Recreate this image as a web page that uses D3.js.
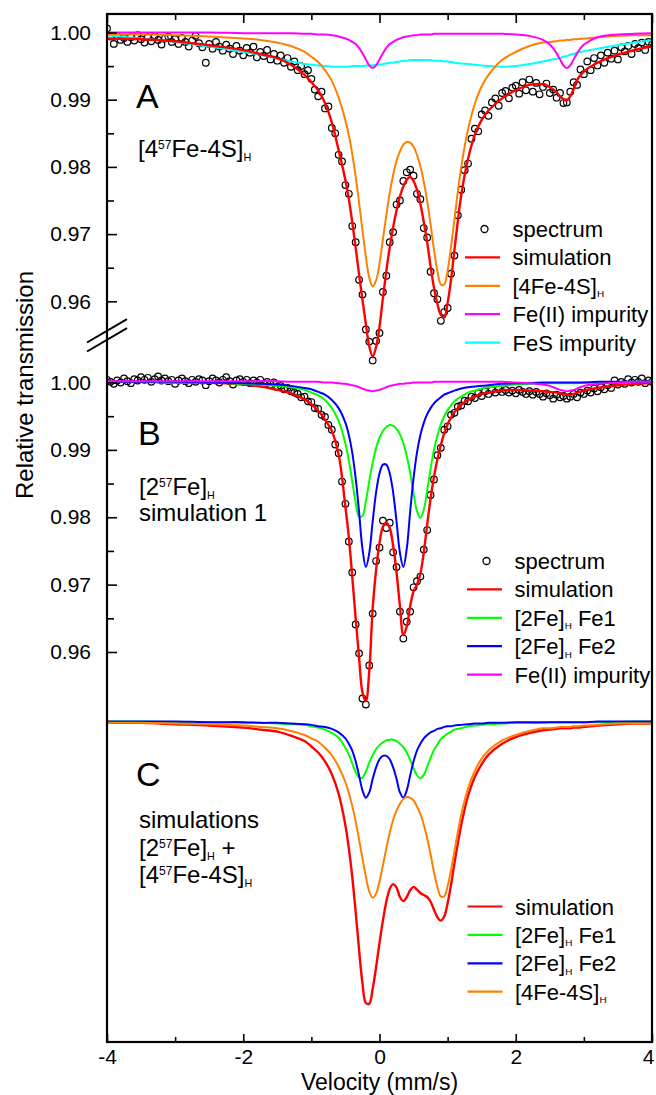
<!DOCTYPE html>
<html>
<head>
<meta charset="utf-8">
<script src="https://cdn.jsdelivr.net/npm/d3@7"></script>
<style>
body { margin: 0; background: #fff; }
svg { font-family: "Liberation Sans", Arial, sans-serif; }
</style>
</head>
<body>
<div id="chart"></div>
<script>
// velocity grid (mm/s) used by all simulated curves
var vCurve = [-4, -3.5, -3, -2.5, -2, -1.75, -1.5, -1.3, -1.1, -1,
  -0.9, -0.8, -0.7, -0.6, -0.5, -0.45, -0.4, -0.35, -0.3, -0.25,
  -0.2, -0.15, -0.1, -0.05, 0, 0.05, 0.1, 0.15, 0.2, 0.25,
  0.3, 0.35, 0.4, 0.45, 0.5, 0.55, 0.6, 0.65, 0.7, 0.75,
  0.8, 0.85, 0.9, 0.95, 1, 1.05, 1.1, 1.2, 1.3, 1.4,
  1.5, 1.6, 1.8, 2, 2.2, 2.4, 2.5, 2.6, 2.65, 2.7,
  2.75, 2.8, 2.85, 2.9, 3, 3.2, 3.5, 3.75, 4];

// panel A : [4 57Fe-4S]H
var redA = [.9991, .9990, .9987, .9981, .9974, .9968, .9962, .9952, .9937, .9926,
  .9914, .9895, .9866, .9825, .9780, .9752, .9718, .9680, .9640, .9602,
  .9566, .9533, .9518, .9532, .9562, .9605, .9645, .9680, .9710, .9735,
  .9756, .9771, .9781, .9785, .9779, .9766, .9745, .9718, .9688, .9652,
  .9620, .9596, .9580, .9576, .9598, .9632, .9676, .9758, .9812, .9848,
  .9870, .9884, .9902, .9914, .9922, .9923, .9919, .9911, .9905, .9901,
  .9899, .9905, .9916, .9929, .9942, .9955, .9967, .9974, .9980];
var orangeA = [.9997, .9997, .9996, .9994, .9991, .9989, .9985, .9980, .9971, .9964,
  .9956, .9944, .9928, .9903, .9869, .9847, .9819, .9786, .9747, .9706,
  .9666, .9635, .9622, .9631, .9656, .9692, .9728, .9761, .9788, .9809,
  .9823, .9833, .9837, .9836, .9830, .9818, .9801, .9778, .9749, .9714,
  .9677, .9645, .9625, .9625, .9646, .9681, .9722, .9800, .9856, .9894,
  .9920, .9937, .9959, .9971, .9980, .9985, .9986, .9987, .9988, .9988,
  .9989, .9989, .9990, .9990, .9991, .9993, .9995, .9996, .9996];
var magentaA = [1.0000, 1.0000, 1.0000, 1.0000, .9999, .9999, .9999, .9999, .9998, .9998,
  .9997, .9997, .9996, .9994, .9991, .9989, .9986, .9983, .9977, .9969,
  .9960, .9951, .9947, .9951, .9960, .9969, .9977, .9983, .9986, .9989,
  .9991, .9993, .9994, .9995, .9996, .9996, .9997, .9997, .9997, .9997,
  .9998, .9998, .9998, .9998, .9998, .9998, .9998, .9998, .9998, .9998,
  .9998, .9998, .9998, .9997, .9995, .9989, .9982, .9969, .9960, .9951,
  .9947, .9951, .9960, .9969, .9982, .9993, .9997, .9998, .9999];
var cyanA = [.9996, .9991, .9986, .9979, .9971, .9967, .9961, .9957, .9953, .9952,
  .9951, .9950, .9949, .9949, .9949, .9949, .9950, .9950, .9950, .9950,
  .9951, .9951, .9951, .9952, .9952, .9953, .9954, .9955, .9955, .9956,
  .9957, .9958, .9958, .9959, .9959, .9959, .9959, .9959, .9959, .9959,
  .9958, .9958, .9958, .9957, .9957, .9956, .9955, .9954, .9953, .9952,
  .9951, .9950, .9949, .9950, .9953, .9957, .9959, .9961, .9962, .9964,
  .9965, .9967, .9968, .9970, .9972, .9976, .9981, .9985, .9988];

// panel B : [2 57Fe]H simulation 1
var redB = [1.0001, 1.0001, 1.0000, 1.0000, .9997, .9994, .9989, .9984, .9975, .9968,
  .9958, .9945, .9928, .9893, .9815, .9770, .9712, .9650, .9592, .9540,
  .9527, .9572, .9665, .9722, .9762, .9786, .9792, .9784, .9758, .9718,
  .9668, .9625, .9638, .9668, .9690, .9700, .9716, .9748, .9789, .9828,
  .9860, .9886, .9907, .9925, .9938, .9948, .9956, .9967, .9974, .9979,
  .9983, .9985, .9988, .9989, .9988, .9987, .9986, .9985, .9984, .9983,
  .9982, .9982, .9983, .9985, .9988, .9992, .9996, .9998, .9999];
var greenB = [1.0001, 1.0001, 1.0000, 1.0000, .9998, .9997, .9995, .9993, .9989, .9985,
  .9981, .9974, .9962, .9943, .9909, .9884, .9853, .9822, .9801, .9802,
  .9824, .9854, .9881, .9903, .9918, .9928, .9934, .9937, .9936, .9931,
  .9923, .9910, .9891, .9866, .9836, .9809, .9799, .9811, .9840, .9872,
  .9900, .9921, .9938, .9950, .9959, .9966, .9972, .9979, .9985, .9988,
  .9991, .9993, .9995, .9997, .9998, .9998, .9999, .9999, .9999, .9999,
  .9999, .9999, .9999, .9999, 1.0000, 1.0000, 1.0000, 1.0001, 1.0001];
var blueB = [1.0001, 1.0001, 1.0001, 1.0000, .9999, .9998, .9997, .9995, .9992, .9990,
  .9986, .9982, .9974, .9962, .9940, .9922, .9896, .9858, .9808, .9753,
  .9726, .9747, .9794, .9837, .9865, .9878, .9878, .9865, .9837, .9794,
  .9747, .9726, .9753, .9808, .9858, .9896, .9922, .9940, .9953, .9962,
  .9969, .9974, .9978, .9982, .9984, .9986, .9988, .9991, .9993, .9994,
  .9995, .9996, .9998, .9999, .9999, 1.0000, 1.0000, 1.0000, 1.0000, 1.0000,
  1.0000, 1.0000, 1.0000, 1.0000, 1.0000, 1.0001, 1.0001, 1.0001, 1.0001];
var magentaB = [1.0002, 1.0002, 1.0002, 1.0002, 1.0002, 1.0002, 1.0002, 1.0001, 1.0001, 1.0001,
  1.0001, 1.0000, 1.0000, .9999, .9998, .9997, .9996, .9995, .9993, .9991,
  .9989, .9988, .9987, .9988, .9989, .9991, .9993, .9995, .9996, .9997,
  .9998, .9998, .9999, .9999, 1.0000, 1.0000, 1.0000, 1.0000, 1.0000, 1.0000,
  1.0001, 1.0001, 1.0001, 1.0001, 1.0001, 1.0001, 1.0001, 1.0001, 1.0001, 1.0001,
  1.0001, 1.0001, 1.0001, 1.0000, .9999, .9997, .9995, .9991, .9989, .9988,
  .9987, .9988, .9989, .9991, .9995, .9998, 1.0000, 1.0001, 1.0001];

// panel C : simulations [2 57Fe]H + [4 57Fe-4S]H
var redC = [.9998, .9998, .9996, .9994, .9991, .9988, .9985, .9979, .9971, .9963,
  .9954, .9941, .9922, .9893, .9846, .9812, .9770, .9718, .9662, .9612,
  .9583, .9582, .9604, .9636, .9672, .9705, .9733, .9752, .9759, .9754,
  .9740, .9734, .9740, .9750, .9755, .9751, .9746, .9743, .9740, .9733,
  .9721, .9710, .9705, .9711, .9731, .9758, .9790, .9847, .9890, .9918,
  .9937, .9951, .9967, .9977, .9983, .9987, .9988, .9989, .9990, .9990,
  .9990, .9990, .9991, .9991, .9992, .9994, .9996, .9997, .9997];
var greenC = [1.0000, 1.0000, .9999, .9999, .9998, .9998, .9997, .9996, .9995, .9993,
  .9991, .9988, .9983, .9976, .9961, .9951, .9938, .9925, .9917, .9917,
  .9926, .9939, .9950, .9959, .9965, .9969, .9972, .9973, .9973, .9971,
  .9967, .9962, .9954, .9943, .9931, .9920, .9916, .9921, .9933, .9946,
  .9958, .9966, .9974, .9978, .9982, .9985, .9988, .9990, .9993, .9994,
  .9995, .9996, .9997, .9998, .9998, .9998, .9999, .9999, .9999, .9999,
  .9999, .9999, .9999, .9999, .9999, .9999, .9999, 1.0000, 1.0000];
var blueC = [1.0000, 1.0000, 1.0000, .9999, .9999, .9998, .9998, .9997, .9996, .9995,
  .9993, .9992, .9989, .9984, .9975, .9967, .9957, .9941, .9920, .9898,
  .9887, .9895, .9915, .9932, .9944, .9949, .9949, .9944, .9932, .9915,
  .9895, .9887, .9898, .9920, .9941, .9957, .9967, .9975, .9980, .9984,
  .9986, .9989, .9990, .9992, .9993, .9993, .9994, .9995, .9996, .9997,
  .9997, .9998, .9998, .9999, .9999, .9999, .9999, .9999, .9999, .9999,
  .9999, .9999, .9999, .9999, .9999, 1.0000, 1.0000, 1.0000, 1.0000];
var orangeC = [.9998, .9998, .9997, .9996, .9994, .9992, .9990, .9986, .9980, .9975,
  .9970, .9961, .9950, .9933, .9910, .9894, .9875, .9852, .9825, .9797,
  .9770, .9748, .9739, .9745, .9763, .9787, .9812, .9835, .9854, .9868,
  .9878, .9885, .9888, .9887, .9883, .9874, .9863, .9847, .9827, .9803,
  .9777, .9755, .9741, .9741, .9756, .9780, .9808, .9862, .9901, .9927,
  .9945, .9957, .9972, .9980, .9986, .9990, .9990, .9991, .9992, .9992,
  .9992, .9992, .9993, .9993, .9994, .9995, .9997, .9997, .9997];

// measured spectra, one value per channel from -4 to 4 mm/s
var specA = [1.0006, .9994, .9983, .9995, .9989, .9992, .9986, .9993, .9988, .9996,
  .9990, .9985, .9993, .9987, .9995, .9989, .9982, .9991, .9994, .9986,
  .9990, .9983, .9992, .9986, .9979, .9988, .9995, .9984, .9978, .9955,
  .9983, .9976, .9986, .9979, .9973, .9982, .9976, .9968, .9980, .9973,
  .9966, .9977, .9970, .9979, .9963, .9971, .9965, .9974, .9960, .9968,
  .9958, .9966, .9955, .9962, .9949, .9957, .9944, .9950, .9938, .9944,
  .9931, .9915, .9905, .9912, .9887, .9890, .9858, .9850, .9818, .9808,
  .9773, .9760, .9712, .9688, .9632, .9610, .9558, .9540, .9512, .9541,
  .9553, .9614, .9638, .9688, .9703, .9744, .9750, .9779, .9792, .9796,
  .9787, .9760, .9752, .9709, .9695, .9644, .9612, .9603, .9571, .9584,
  .9590, .9641, .9668, .9728, .9766, .9795, .9805, .9842, .9857, .9853,
  .9878, .9884, .9876, .9896, .9902, .9891, .9910, .9913, .9902, .9918,
  .9921, .9909, .9926, .9914, .9930, .9912, .9925, .9908, .9919, .9924,
  .9910, .9915, .9903, .9910, .9895, .9896, .9912, .9926, .9922, .9945,
  .9938, .9957, .9944, .9962, .9951, .9966, .9955, .9970, .9961, .9973,
  .9960, .9978, .9972, .9980, .9968, .9983, .9977, .9985, .9974, .9986,
  .9982];
var specB = [1.0004, 1.0001, .9998, 1.0003, 1.0000, 1.0006, 1.0002, .9999, 1.0005, 1.0003,
  1.0008, 1.0004, 1.0007, 1.0001, 1.0005, 1.0009, 1.0003, 1.0006, 1.0002, 1.0004,
  .9998, 1.0003, 1.0006, 1.0002, .9999, 1.0004, 1.0001, 1.0005, 1.0003, .9996,
  1.0002, 1.0006, 1.0003, 1.0000, 1.0004, 1.0008, 1.0002, .9997, 1.0003, 1.0005,
  1.0001, 1.0004, .9999, 1.0003, 1.0000, 1.0004, .9998, 1.0001, .9997, 1.0000,
  .9993, .9995, .9990, .9992, .9987, .9985, .9983, .9978, .9979, .9972,
  .9971, .9962, .9961, .9952, .9949, .9937, .9930, .9908, .9895, .9853,
  .9820, .9764, .9718, .9641, .9598, .9531, .9522, .9580, .9657, .9735,
  .9755, .9795, .9784, .9792, .9748, .9726, .9660, .9620, .9645, .9660,
  .9696, .9705, .9712, .9752, .9781, .9833, .9856, .9892, .9903, .9930,
  .9935, .9952, .9955, .9964, .9966, .9973, .9972, .9979, .9977, .9984,
  .9980, .9987, .9983, .9989, .9985, .9990, .9986, .9989, .9985, .9988,
  .9984, .9989, .9986, .9983, .9987, .9982, .9986, .9983, .9979, .9984,
  .9981, .9976, .9982, .9978, .9980, .9976, .9979, .9983, .9978, .9985,
  .9983, .9988, .9985, .9991, .9987, .9993, .9990, .9996, .9992, 1.0003,
  .9997, 1.0001, .9998, 1.0005, 1.0000, 1.0004, 1.0001, 1.0006, .9999, 1.0003,
  1.0001];
// channel velocities of the measured spectra
var vSpectrum = d3.range(specA.length).map(function(i) { return +(-4 + i * 0.05).toFixed(2); });

// tick values
var xMajor = [-4, -2, 0, 2, 4];
var xMinor = [-3, -1, 1, 3];
var yMajor = [0.96, 0.97, 0.98, 0.99, 1.00];
var yMinor = [0.965, 0.975, 0.985, 0.995];

var svgWidth = 656;
var svgHeight = 1095;
var frame = { left: 107, right: 652, top: 14, bottom: 1042 };

var svg = d3.select("#chart")
  .append("svg")
  .attr("width", svgWidth)
  .attr("height", svgHeight);
svg.append("rect")
  .attr("width", "100%")
  .attr("height", "100%")
  .attr("fill", "white");

var xScale = d3.scaleLinear().domain([-4, 4]).range([frame.left, frame.right]);
var yA = d3.scaleLinear().domain([0.96, 1.00]).range([301.3, 32.5]);
var yB = d3.scaleLinear().domain([0.96, 1.00]).range([652, 382.5]);
var yC = d3.scaleLinear().domain([0.96, 1.00]).range([991.5, 721.5]);

svg.append("clipPath").attr("id", "plotClip")
  .append("rect")
  .attr("x", frame.left).attr("y", frame.top)
  .attr("width", frame.right - frame.left)
  .attr("height", frame.bottom - frame.top);

var plot = svg.append("g").attr("clip-path", "url(#plotClip)");

var colors = {
  red: "#ff0000", orange: "#ff8000", magenta: "#ff00ff",
  cyan: "#00ffff", green: "#00ff00", blue: "#0000ff"
};

var panels = [
  { y: yA, spectrum: specA,
    curves: [[cyanA, colors.cyan], [orangeA, colors.orange], [magentaA, colors.magenta], [redA, colors.red]] },
  { y: yB, spectrum: specB,
    curves: [[redB, colors.red], [greenB, colors.green], [blueB, colors.blue], [magentaB, colors.magenta]] },
  { y: yC, spectrum: null,
    curves: [[redC, colors.red], [greenC, colors.green], [blueC, colors.blue], [orangeC, colors.orange]] }
];

panels.forEach(function(p) {
  if (p.spectrum) {
    plot.append("g").selectAll("circle")
      .data(p.spectrum)
      .enter()
      .append("circle")
      .attr("cx", function(d, i) { return xScale(vSpectrum[i]); })
      .attr("cy", function(d) { return p.y(d); })
      .attr("r", 3.3)
      .attr("fill", "none")
      .attr("stroke", "#000")
      .attr("stroke-width", 1.2);
  }
  var line = d3.line()
    .x(function(d, i) { return xScale(vCurve[i]); })
    .y(function(d) { return p.y(d); })
    .curve(d3.curveCatmullRom.alpha(0.5));
  p.curves.forEach(function(c) {
    plot.append("path")
      .datum(c[0])
      .attr("d", line)
      .attr("fill", "none")
      .attr("stroke", c[1])
      .attr("stroke-width", c[1] === colors.red ? 2.4 : 2);
  });
});

// axes
function styleAxis(g) {
  g.select(".domain").remove();
  g.attr("font-size", 21)
    .attr("font-family", "'Liberation Sans', Arial, sans-serif");
  g.selectAll(".tick line").attr("stroke", "#000").attr("stroke-width", 1.6);
  g.selectAll(".tick text").attr("fill", "#000");
}

[yA, yB].forEach(function(ys) {
  svg.append("g")
    .attr("transform", `translate(${frame.left}, 0)`)
    .call(d3.axisLeft(ys).tickValues(yMajor).tickFormat(d3.format(".2f"))
      .tickSizeInner(-10).tickSizeOuter(0).tickPadding(16))
    .call(styleAxis);
  svg.append("g")
    .attr("transform", `translate(${frame.left}, 0)`)
    .call(d3.axisLeft(ys).tickValues(yMinor).tickFormat("")
      .tickSizeInner(-7).tickSizeOuter(0))
    .call(styleAxis);
});

var bottomAxis = svg.append("g")
  .attr("transform", `translate(0, ${frame.bottom})`)
  .call(d3.axisBottom(xScale).tickValues(xMajor).tickFormat(function(d) { return String(d); })
    .tickSizeInner(-8).tickSizeOuter(0).tickPadding(7))
  .call(styleAxis);
// keep the last label inside the picture
bottomAxis.selectAll(".tick text").filter(function(d) { return d === 4; }).attr("dx", -4);
svg.append("g")
  .attr("transform", `translate(0, ${frame.bottom})`)
  .call(d3.axisBottom(xScale).tickValues(xMinor).tickFormat("")
    .tickSizeInner(-5).tickSizeOuter(0))
  .call(styleAxis);
svg.append("g")
  .attr("transform", `translate(0, ${frame.top})`)
  .call(d3.axisTop(xScale).tickValues(xMajor).tickFormat("")
    .tickSizeInner(-9).tickSizeOuter(0))
  .call(styleAxis);
svg.append("g")
  .attr("transform", `translate(0, ${frame.top})`)
  .call(d3.axisTop(xScale).tickValues(xMinor).tickFormat("")
    .tickSizeInner(-6).tickSizeOuter(0))
  .call(styleAxis);

svg.append("rect")
  .attr("x", frame.left).attr("y", frame.top)
  .attr("width", frame.right - frame.left)
  .attr("height", frame.bottom - frame.top)
  .attr("fill", "none")
  .attr("stroke", "#000")
  .attr("stroke-width", 2.2);

// axis break between A and B
var breakY = yA(0.96) + 34;
[-4.5, 4.5].forEach(function(off) {
  svg.append("line")
    .attr("x1", frame.left - 20).attr("y1", breakY + off + 11.7)
    .attr("x2", frame.left + 20).attr("y2", breakY + off - 11.7)
    .attr("stroke", "#000")
    .attr("stroke-width", 2);
});

// axis titles
svg.append("text")
  .attr("transform", `translate(33, 385) rotate(-90)`)
  .attr("text-anchor", "middle")
  .attr("font-size", 24)
  .text("Relative transmission");
svg.append("text")
  .attr("x", (frame.left + frame.right) / 2)
  .attr("y", 1090)
  .attr("text-anchor", "middle")
  .attr("font-size", 23)
  .text("Velocity (mm/s)");

// text with super/subscripts: parts = [text, "sup"|"sub"|undefined]
function rich(x, y, size, parts) {
  var t = svg.append("text").attr("x", x).attr("y", y).attr("font-size", size);
  var shift = 0;
  parts.forEach(function(p) {
    var target = p[1] === "sup" ? -size * 0.33 : p[1] === "sub" ? size * 0.16 : 0;
    var fs = p[1] === "sup" ? size * 0.5 : p[1] === "sub" ? size * 0.45 : size;
    t.append("tspan")
      .attr("dy", target - shift)
      .attr("font-size", fs)
      .text(p[0]);
    shift = target;
  });
  return t;
}

// panel annotations
rich(136, 108, 34, [["A"]]);
rich(138, 157, 24, [["[4"], ["57", "sup"], ["Fe-4S]"], ["H", "sub"]]);
rich(138, 445, 34, [["B"]]);
rich(139, 495, 24, [["[2"], ["57", "sup"], ["Fe]"], ["H", "sub"]]);
rich(139, 521, 24, [["simulation 1"]]);
rich(136, 786, 34, [["C"]]);
rich(139, 828, 24, [["simulations"]]);
rich(139, 856, 24, [["[2"], ["57", "sup"], ["Fe]"], ["H", "sub"], [" +"]]);
rich(139, 883, 24, [["[4"], ["57", "sup"], ["Fe-4S]"], ["H", "sub"]]);

// legends
var legends = [
  { x: 465, y0: 229, items: [
    [null, [["spectrum"]]],
    [colors.red, [["simulation"]]],
    [colors.orange, [["[4Fe-4S]"], ["H", "sub"]]],
    [colors.magenta, [["Fe(II) impurity"]]],
    [colors.cyan, [["FeS impurity"]]] ] },
  { x: 467, y0: 561, items: [
    [null, [["spectrum"]]],
    [colors.red, [["simulation"]]],
    [colors.green, [["[2Fe]"], ["H", "sub"], [" Fe1"]]],
    [colors.blue, [["[2Fe]"], ["H", "sub"], [" Fe2"]]],
    [colors.magenta, [["Fe(II) impurity"]]] ] },
  { x: 467.5, y0: 906.5, items: [
    [colors.red, [["simulation"]]],
    [colors.green, [["[2Fe]"], ["H", "sub"], [" Fe1"]]],
    [colors.blue, [["[2Fe]"], ["H", "sub"], [" Fe2"]]],
    [colors.orange, [["[4Fe-4S]"], ["H", "sub"]]] ] }
];

legends.forEach(function(lg) {
  lg.items.forEach(function(item, i) {
    var yy = lg.y0 + i * 28.4;
    if (item[0] === null) {
      svg.append("circle")
        .attr("cx", lg.x + 19.5).attr("cy", yy).attr("r", 3.5)
        .attr("fill", "none").attr("stroke", "#000").attr("stroke-width", 1.3);
    } else {
      svg.append("line")
        .attr("x1", lg.x).attr("x2", lg.x + 35)
        .attr("y1", yy).attr("y2", yy)
        .attr("stroke", item[0]).attr("stroke-width", 2.2);
    }
    rich(lg.x + 47.5, yy + 8, 22, item[1]);
  });
});
</script>
</body>
</html>
